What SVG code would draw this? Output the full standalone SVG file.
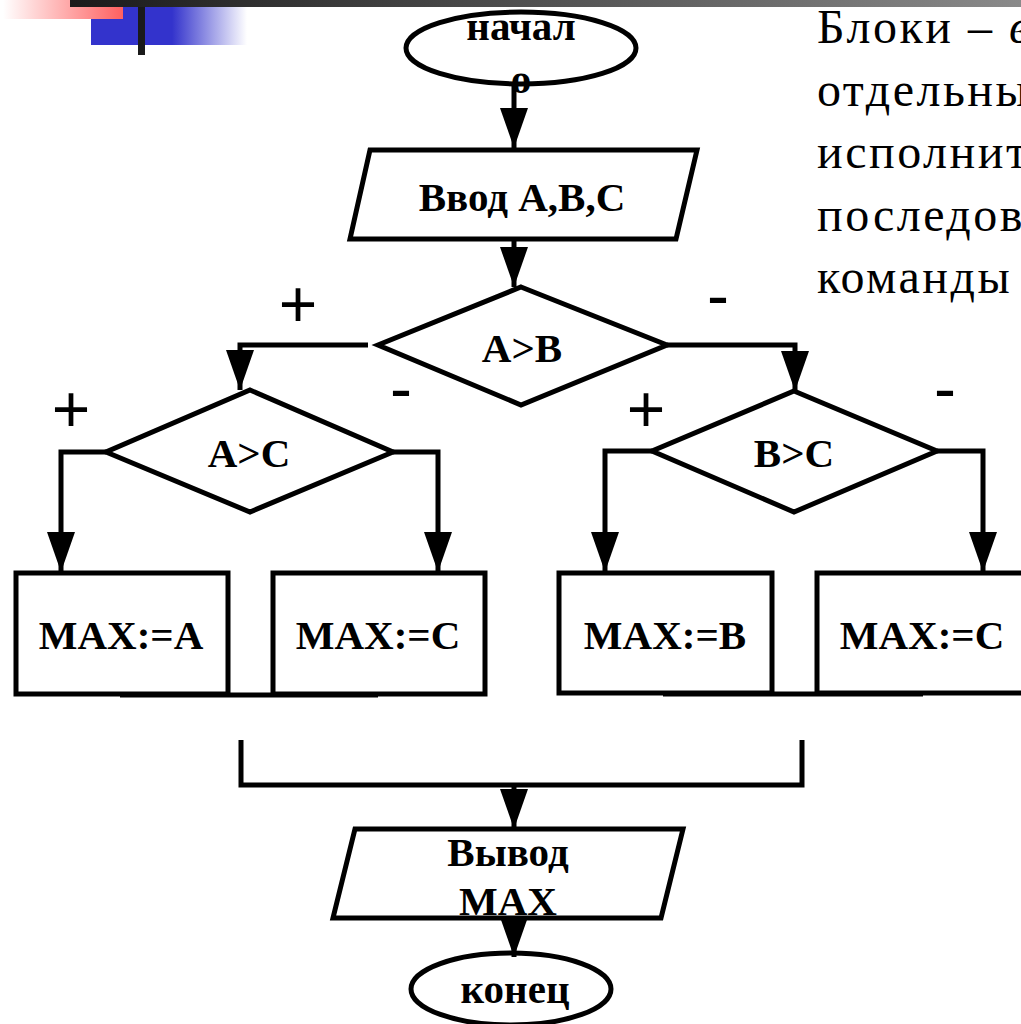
<svg xmlns="http://www.w3.org/2000/svg" width="1021" height="1024" viewBox="0 0 1021 1024">
  <defs>
    <linearGradient id="barGrad" x1="0" y1="0" x2="1" y2="0">
      <stop offset="0" stop-color="#1a1a1a"/>
      <stop offset="1" stop-color="#8a8a8a"/>
    </linearGradient>
    <linearGradient id="pinkGrad" x1="0" y1="0" x2="1" y2="0">
      <stop offset="0" stop-color="#ffffff"/>
      <stop offset="1" stop-color="#ff6060"/>
    </linearGradient>
    <linearGradient id="blueGrad" x1="0" y1="0" x2="1" y2="0">
      <stop offset="0" stop-color="#3333cc"/>
      <stop offset="0.52" stop-color="#3333cc"/>
      <stop offset="1" stop-color="#ffffff"/>
    </linearGradient>
    <marker id="arrow" markerWidth="40" markerHeight="28" refX="40" refY="14" orient="auto" markerUnits="userSpaceOnUse" viewBox="0 0 40 28">
      <path d="M0,0 L40,14 L0,28 Z" fill="#000"/>
    </marker>
  </defs>
  <style>
    .shape { fill: #fff; stroke: #000; stroke-width: 5; }
    .line { fill: none; stroke: #000; stroke-width: 5; }
    .lbl { font-family: "Liberation Serif", "Times New Roman", serif; font-weight: bold; font-size: 41px; fill: #000; text-anchor: middle; }
    .sign { font-family: "Liberation Sans", Arial, sans-serif; font-size: 66px; fill: #000; text-anchor: middle; }
    .body { font-family: "Liberation Serif", "Times New Roman", serif; font-size: 48px; letter-spacing: 2.5px; fill: #000; }
  </style>

  <rect width="1021" height="1024" fill="#fff"/>

  <!-- slide decoration -->
  <g id="decor">
    <rect x="91" y="7" width="156" height="38" fill="url(#blueGrad)"/>
    <rect x="3" y="0" width="120" height="19" fill="url(#pinkGrad)"/>
    <rect x="70" y="0" width="951" height="7" fill="url(#barGrad)"/>
    <rect x="138" y="7" width="7" height="48" fill="#1a1a1a"/>
  </g>

  <!-- side text -->
  <g id="side-text">
    <text class="body" x="817" y="43">Блоки – <tspan font-style="italic">в</tspan></text>
    <text class="body" x="817" y="106">отдельны</text>
    <text class="body" x="817" y="168">исполнит</text>
    <text class="body" x="817" y="231">последов</text>
    <text class="body" x="817" y="293">команды</text>
  </g>

  <!-- nodes -->
  <g id="start">
    <ellipse class="shape" cx="521" cy="48" rx="115" ry="36"/>
    <text class="lbl" x="521" y="40">начал</text>
    <text class="lbl" x="521" y="93">о</text>
  </g>

  <g id="input">
    <polygon class="shape" points="370,150 697,150 676,239 350,239"/>
    <text class="lbl" x="522" y="211">Ввод A,B,C</text>
  </g>

  <g id="cond-ab">
    <polygon class="shape" points="521,287 667,345 521,405 378,345"/>
    <text class="lbl" x="522" y="362">A&gt;B</text>
  </g>

  <g id="cond-ac">
    <polygon class="shape" points="250,390 393,452 250,512 106,452"/>
    <text class="lbl" x="249" y="467">A&gt;C</text>
  </g>

  <g id="cond-bc">
    <polygon class="shape" points="794,391 937,451 794,512 652,451"/>
    <text class="lbl" x="794" y="467">B&gt;C</text>
  </g>

  <g id="max-a">
    <rect class="shape" x="16" y="573" width="212" height="121"/>
    <text class="lbl" x="121" y="649">MAX:=A</text>
  </g>

  <g id="max-c1">
    <rect class="shape" x="273" y="573" width="212" height="121"/>
    <text class="lbl" x="378" y="649">MAX:=C</text>
  </g>

  <g id="max-b">
    <rect class="shape" x="559" y="573" width="213" height="120"/>
    <text class="lbl" x="665" y="649">MAX:=B</text>
  </g>

  <g id="max-c2">
    <rect class="shape" x="817" y="573" width="213" height="120"/>
    <text class="lbl" x="922" y="649">MAX:=C</text>
  </g>

  <g id="output">
    <polygon class="shape" points="355,829 683,829 661,918 333,918"/>
    <text class="lbl" x="508" y="866">Вывод</text>
    <text class="lbl" x="508" y="915">MAX</text>
  </g>

  <g id="end">
    <ellipse class="shape" cx="511" cy="989" rx="100" ry="36"/>
    <text class="lbl" x="515" y="1003">конец</text>
  </g>

  <!-- branch signs -->
  <g id="signs">
    <text class="sign" x="298" y="327">+</text>
    <text class="sign" x="718" y="318">-</text>
    <text class="sign" x="71" y="432">+</text>
    <text class="sign" x="401" y="411">-</text>
    <text class="sign" x="646" y="432">+</text>
    <text class="sign" x="945" y="411">-</text>
  </g>

  <!-- connectors -->
  <g id="connectors">
    <line class="line" x1="514" y1="84" x2="514" y2="148" marker-end="url(#arrow)"/>
    <line class="line" x1="514" y1="239" x2="514" y2="287" marker-end="url(#arrow)"/>
    <polyline class="line" points="368,345 240,345 240,390" marker-end="url(#arrow)"/>
    <polyline class="line" points="667,345 795,345 795,391" marker-end="url(#arrow)"/>
    <polyline class="line" points="106,452 61,452 61,572" marker-end="url(#arrow)"/>
    <polyline class="line" points="393,452 438,452 438,572" marker-end="url(#arrow)"/>
    <polyline class="line" points="652,451 605,451 605,572" marker-end="url(#arrow)"/>
    <polyline class="line" points="937,451 983,451 983,572" marker-end="url(#arrow)"/>
    <line class="line" x1="120" y1="695" x2="378" y2="695" stroke-width="6"/>
    <line class="line" x1="663" y1="694" x2="923" y2="694" stroke-width="6"/>
    <polyline class="line" points="241,740 241,785 802,785 802,740"/>
    <line class="line" x1="514" y1="785" x2="514" y2="829" marker-end="url(#arrow)"/>
    <line class="line" x1="514" y1="918" x2="514" y2="957" marker-end="url(#arrow)"/>
  </g>
</svg>
